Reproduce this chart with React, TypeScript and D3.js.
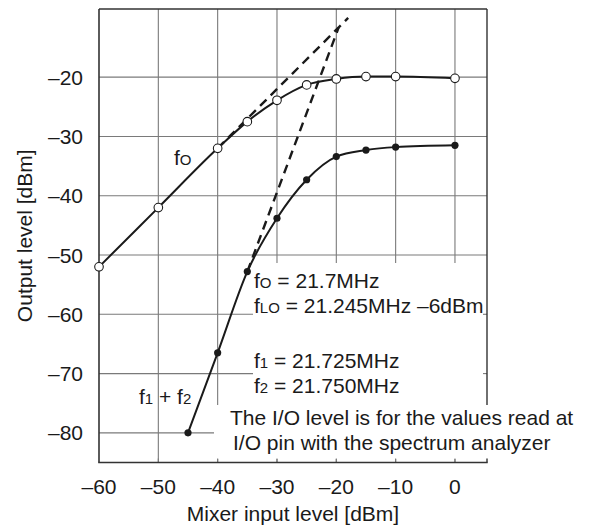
import React from "react";
import * as d3 from "d3";

const W = 589;
const H = 531;

// Data
const foInput = [-60, -50, -40, -35, -30, -25, -20, -15, -10, 0];
const foOutput = [-52, -42, -32, -27.5, -23.9, -21.3, -20.3, -19.9, -19.9, -20.2];

const imInput = [-45, -40, -35, -30, -25, -20, -15, -10, 0];
const imOutput = [-80, -66.5, -52.8, -43.8, -37.3, -33.4, -32.3, -31.8, -31.5];

const foExtrapX = [-40, -18];
const foExtrapY = [-32, -10];
const imExtrapX = [-35, -19.6];
const imExtrapY = [-52.8, -11.6];

const xTicks = [-60, -50, -40, -30, -20, -10, 0];
const yTicks = [-20, -30, -40, -50, -60, -70, -80];

const FONT = "'Liberation Sans', Arial, Helvetica, sans-serif";
const FS = 21;
const SUB = 15;

export default function App() {
  const x = d3.scaleLinear().domain([-60, 5.4]).range([99, 487]);
  const y = d3.scaleLinear().domain([-85, -8.5]).range([462.5, 9]);

  const left = x(-60);
  const right = x(5.4);
  const top = y(-8.5);
  const bottom = y(-85);

  const line = d3
    .line<[number, number]>()
    .x((d) => x(d[0]))
    .y((d) => y(d[1]))
    .curve(d3.curveMonotoneX);
  const straight = d3
    .line<[number, number]>()
    .x((d) => x(d[0]))
    .y((d) => y(d[1]));

  const foPts: [number, number][] = foInput.map((v, i) => [v, foOutput[i]]);
  const imPts: [number, number][] = imInput.map((v, i) => [v, imOutput[i]]);
  const foEx: [number, number][] = foExtrapX.map((v, i) => [v, foExtrapY[i]]);
  const imEx: [number, number][] = imExtrapX.map((v, i) => [v, imExtrapY[i]]);

  const gridColor = "#7a7a7a";
  const ink = "#1a1a1a";

  // annotation boxes
  const box1 = { x0: 253, y0: 263, x1: right - 0.8, y1: 405 };
  const box2 = { x0: 214, y0: 405, x1: 585, y1: 459 };

  return (
    <svg
      width={W}
      height={H}
      style={{ position: "absolute", left: 0, top: 0, background: "#fff" }}
      fontFamily={FONT}
    >
      <rect x={0} y={0} width={W} height={H} fill="#fff" />
      {/* gridlines */}
      {xTicks.slice(1).map((t) => (
        <line key={"gx" + t} x1={x(t)} x2={x(t)} y1={top} y2={bottom} stroke={gridColor} strokeWidth={1.1} />
      ))}
      {yTicks.map((t) => (
        <line key={"gy" + t} x1={left} x2={right} y1={y(t)} y2={y(t)} stroke={gridColor} strokeWidth={1.1} />
      ))}
      {/* white annotation boxes */}
      <rect x={box1.x0} y={box1.y0} width={box1.x1 - box1.x0} height={box1.y1 - box1.y0} fill="#fff" />
      <rect x={box2.x0} y={box2.y0} width={box2.x1 - box2.x0} height={box2.y1 - box2.y0} fill="#fff" />
      {/* bottom small ticks */}
      {xTicks.slice(1).map((t) => (
        <line key={"bt" + t} x1={x(t)} x2={x(t)} y1={bottom} y2={bottom - 4} stroke={gridColor} strokeWidth={1.1} />
      ))}
      <line x1={right} x2={right} y1={bottom} y2={bottom - 4} stroke="#333" strokeWidth={1.4} />
      {/* right small ticks */}
      {[-60, -70].map((t) => (
        <line key={"rt" + t} x1={right} x2={right - 4} y1={y(t)} y2={y(t)} stroke={gridColor} strokeWidth={1.1} />
      ))}
      {/* frame */}
      <line x1={left} x2={right} y1={top} y2={top} stroke="#333" strokeWidth={1.4} />
      <line x1={left} x2={left} y1={top} y2={bottom} stroke="#333" strokeWidth={1.6} />
      <line x1={left - 0.8} x2={right + 0.7} y1={bottom} y2={bottom} stroke="#333" strokeWidth={1.6} />
      <line x1={right} x2={right} y1={top} y2={box1.y1} stroke="#333" strokeWidth={1.4} />

      {/* dashed extrapolations */}
      <path d={straight(foEx) || ""} fill="none" stroke={ink} strokeWidth={2.4} strokeDasharray="9,6" />
      <path d={straight(imEx) || ""} fill="none" stroke={ink} strokeWidth={2.4} strokeDasharray="9,6" />

      {/* curves */}
      <path d={line(foPts) || ""} fill="none" stroke={ink} strokeWidth={2} />
      <path d={line(imPts) || ""} fill="none" stroke={ink} strokeWidth={2} />

      {foPts.map((d, i) => (
        <circle key={"fo" + i} cx={x(d[0])} cy={y(d[1])} r={4.3} fill="#fff" stroke={ink} strokeWidth={1.1} />
      ))}
      {imPts.map((d, i) => (
        <circle key={"im" + i} cx={x(d[0])} cy={y(d[1])} r={3.6} fill={ink} />
      ))}

      {/* y tick labels */}
      {yTicks.map((t) => (
        <text key={"yl" + t} x={83} y={y(t) + 7.5} textAnchor="end" fontSize={FS} fill={ink}>
          {"–" + Math.abs(t)}
        </text>
      ))}
      {/* x tick labels */}
      {xTicks.map((t) => (
        <text key={"xl" + t} x={x(t)} y={494} textAnchor="middle" fontSize={FS} fill={ink}>
          {t === 0 ? "0" : "–" + Math.abs(t)}
        </text>
      ))}
      {/* axis titles */}
      <text x={(left + right) / 2} y={521} textAnchor="middle" fontSize={FS} fill={ink}>
        Mixer input level [dBm]
      </text>
      <text
        transform={`translate(32, ${(top + bottom) / 2}) rotate(-90)`}
        textAnchor="middle"
        fontSize={FS}
        fill={ink}
      >
        Output level [dBm]
      </text>

      {/* curve labels */}
      <text x={174} y={165} fontSize={FS} fill={ink}>
        f<tspan fontSize={SUB}>O</tspan>
      </text>
      <text x={139} y={404} fontSize={FS} fill={ink}>
        f<tspan fontSize={SUB}>1</tspan> + f<tspan fontSize={SUB}>2</tspan>
      </text>

      {/* annotations */}
      <text x={254} y={288} fontSize={FS} fill={ink}>
        f<tspan fontSize={SUB}>O</tspan> = 21.7MHz
      </text>
      <text x={254} y={313} fontSize={FS} fill={ink}>
        f<tspan fontSize={SUB}>LO</tspan> = 21.245MHz –6dBm
      </text>
      <text x={254} y={368} fontSize={FS} fill={ink}>
        f<tspan fontSize={SUB}>1</tspan> = 21.725MHz
      </text>
      <text x={254} y={393} fontSize={FS} fill={ink}>
        f<tspan fontSize={SUB}>2</tspan> = 21.750MHz
      </text>
      <text x={230} y={425} fontSize={FS} fill={ink}>
        The I/O level is for the values read at
      </text>
      <text x={233} y={450} fontSize={FS} fill={ink}>
        I/O pin with the spectrum analyzer
      </text>
    </svg>
  );
}
